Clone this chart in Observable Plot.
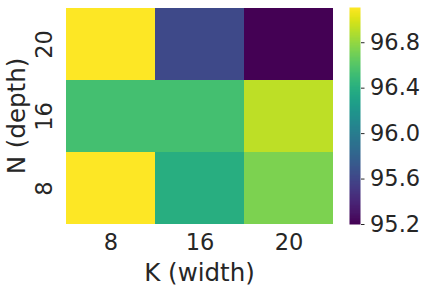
<!DOCTYPE html>
<html><head><meta charset="utf-8">
<script src="https://cdn.jsdelivr.net/npm/d3@7"></script>
<script src="https://cdn.jsdelivr.net/npm/@observablehq/plot@0.6"></script>
<style>
body{margin:0;background:#fff;}
#wrap{position:relative;width:425px;height:289px;}
#wrap svg{position:absolute;top:0;}
</style></head><body><div id="wrap"></div>
<script>
const K = ["8", "16", "20"];
const N = ["20", "16", "8"];
const accN20 = [97.11, 95.62, 95.20];
const accN16 = [96.54, 96.54, 96.92];
const accN8  = [97.11, 96.40, 96.73];
const cbarTicks = [95.2, 95.6, 96.0, 96.4, 96.8];
const vmin = 95.2, vmax = 97.11;

const rows = [accN20, accN16, accN8];
const data = [];
N.forEach((n, i) => K.forEach((k, j) => data.push({K: k, N: n, v: rows[i][j]})));

const font = "DejaVu Sans";
const ink = "#262626";
const color = {type: "linear", scheme: "viridis", domain: [vmin, vmax]};
const tfs = 22.5, lfs = 24.5;

const main = Plot.plot({
  width: 425, height: 289,
  marginLeft: 65, marginRight: 92, marginTop: 7, marginBottom: 65,
  style: {fontFamily: font, fontSize: tfs + "px", color: ink, background: "transparent"},
  x: {domain: K, padding: 0, label: null},
  y: {domain: N, padding: 0, label: null},
  color,
  marks: [
    Plot.cell(data, {x: "K", y: "N", fill: "v"}),
    Plot.axisX({tickSize: 0, tickPadding: 10, fontSize: tfs, label: null}),
    Plot.axisY({tickSize: 0, tickRotate: -90, tickPadding: 14, fontSize: tfs, label: null}),
    Plot.text(["K (width)"], {frameAnchor: "bottom", dy: 56, fontSize: lfs, fill: ink}),
    Plot.text(["N (depth)"], {frameAnchor: "left", textAnchor: "middle", dx: -48, rotate: -90, fontSize: lfs, fill: ink})
  ]
});
main.style.left = "0px";
document.getElementById("wrap").appendChild(main);

const cbar = Plot.plot({
  width: 76, height: 289,
  marginLeft: 0, marginRight: 65, marginTop: 7, marginBottom: 65,
  style: {fontFamily: font, fontSize: tfs + "px", color: ink, background: "transparent", overflow: "visible"},
  x: {domain: [0, 1], axis: null},
  y: {domain: [vmin, vmax], label: null},
  color,
  marks: [
    Plot.raster({x1: 0, x2: 1, y1: vmin, y2: vmax, width: 1, height: 300, fill: (x, y) => y}),
    Plot.axisY({anchor: "right", ticks: cbarTicks, tickFormat: d3.format(".1f"), tickSize: 3.5, tickPadding: 6, fontSize: tfs, label: null, stroke: ink})
  ]
});
cbar.style.left = "349px";
document.getElementById("wrap").appendChild(cbar);
</script></body></html>
